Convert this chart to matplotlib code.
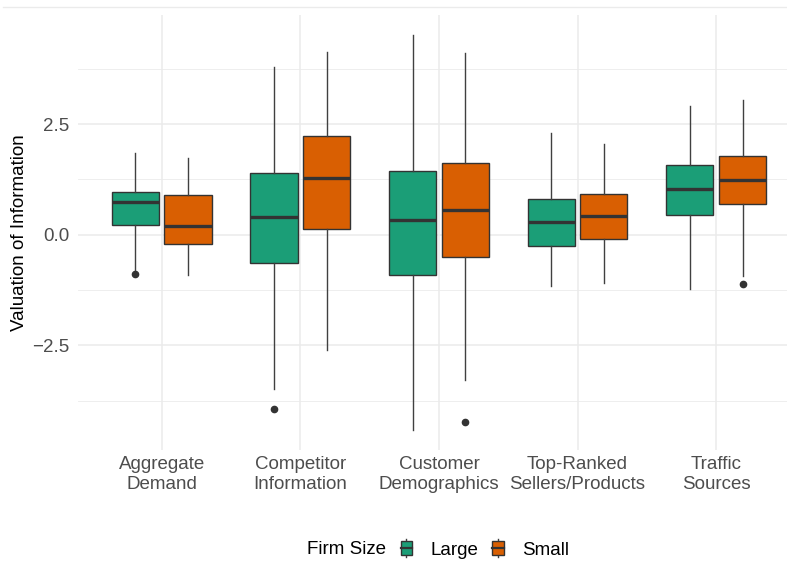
import matplotlib
matplotlib.use("Agg")
import matplotlib.pyplot as plt
from matplotlib.patches import Patch, Rectangle
from matplotlib.lines import Line2D
from matplotlib.legend_handler import HandlerBase

plt.rcParams['font.family'] = ['Liberation Sans', 'DejaVu Sans']

# Information categories shown on the x axis
categories = ["Aggregate\nDemand", "Competitor\nInformation", "Customer\nDemographics",
              "Top-Ranked\nSellers/Products", "Traffic\nSources"]
groups = ["Large", "Small"]

# Box summaries per firm size: whisker low, Q1, median, Q3, whisker high, outliers
large_whislo = [-0.83, -3.49, -4.41, -1.15, -1.23]
large_q1     = [0.23, -0.64, -0.91, -0.25, 0.45]
large_med    = [0.73, 0.40, 0.33, 0.28, 1.04]
large_q3     = [0.96, 1.39, 1.45, 0.81, 1.58]
large_whishi = [1.84, 3.78, 4.51, 2.30, 2.90]
large_fliers = [[-0.89], [-3.94], [], [], []]

small_whislo = [-0.91, -2.60, -3.28, -1.08, -0.93]
small_q1     = [-0.22, 0.13, -0.51, -0.10, 0.69]
small_med    = [0.19, 1.27, 0.55, 0.42, 1.24]
small_q3     = [0.90, 2.22, 1.62, 0.93, 1.78]
small_whishi = [1.73, 4.13, 4.10, 2.06, 3.05]
small_fliers = [[], [], [-4.22], [], [-1.12]]

colors = {"Large": "#1B9E77", "Small": "#D95F02"}
edge = "#333333"

series = {
    "Large": (large_whislo, large_q1, large_med, large_q3, large_whishi, large_fliers),
    "Small": (small_whislo, small_q1, small_med, small_q3, small_whishi, small_fliers),
}

fig = plt.figure(figsize=(7.87, 5.62), dpi=100)
W, H = 787, 562
ax = fig.add_axes([78 / W, (H - 450) / H, 1 - 78 / W, (450 - 15) / H])

offsets = {"Large": -0.19, "Small": 0.19}
for g in groups:
    lo, q1, med, q3, hi, fl = series[g]
    stats = []
    for i in range(len(categories)):
        stats.append(dict(whislo=lo[i], q1=q1[i], med=med[i], q3=q3[i],
                          whishi=hi[i], fliers=fl[i]))
    pos = [i + 1 + offsets[g] for i in range(len(categories))]
    ax.bxp(stats, positions=pos, widths=0.34, patch_artist=True,
           showcaps=False,
           boxprops=dict(facecolor=colors[g], edgecolor=edge, linewidth=1.0),
           medianprops=dict(color=edge, linewidth=2.4, solid_capstyle='butt'),
           whiskerprops=dict(color="#404040", linewidth=1.0),
           flierprops=dict(marker='o', markerfacecolor=edge, markeredgecolor=edge,
                           markersize=4.5, linestyle='none'),
           zorder=3)

ax.set_xlim(0.396, 5.511)
ax.set_ylim(-4.863, 4.963)
ax.set_xticks(range(1, len(categories) + 1))
ax.set_xticklabels(categories, linespacing=1.25)
ax.set_yticks([-2.5, 0.0, 2.5])
ax.set_yticks([-3.75, -1.25, 1.25, 3.75], minor=True)

ax.grid(True, which='major', color='#EBEBEB', linewidth=1.1, zorder=0)
ax.grid(True, which='minor', axis='y', color='#EBEBEB', linewidth=0.6, zorder=0)
ax.set_axisbelow(True)
for s in ax.spines.values():
    s.set_visible(False)
ax.tick_params(axis='both', which='both', length=0, labelsize=13.5, labelcolor='#4D4D4D')
ax.tick_params(axis='x', pad=4)
ax.tick_params(axis='y', pad=6)

fig.text(20 / W, (H - 232.5) / H, "Valuation of Information", rotation=90,
         ha='center', va='center', fontsize=13.5, color='black')

# Thin rule along the top of the figure
fig.add_artist(Line2D([3 / W, 1.0], [(H - 7) / H] * 2, color='#EBEBEB', linewidth=1.0))


class BoxKeyHandler(HandlerBase):
    def create_artists(self, legend, orig_handle, xdescent, ydescent, width, height,
                       fontsize, trans):
        fc = orig_handle.get_facecolor()
        x0, y0 = -xdescent, -ydescent
        cx = x0 + width / 2
        whisk = Line2D([cx, cx], [y0 - 0.15 * height, y0 + 1.15 * height],
                       color='#404040', linewidth=1.0, transform=trans)
        box = Rectangle((x0, y0), width, height, facecolor=fc, edgecolor=edge,
                        linewidth=1.0, transform=trans)
        med = Line2D([x0, x0 + width], [y0 + height / 2] * 2, color=edge,
                     linewidth=1.6, transform=trans)
        return [whisk, box, med]


fig.text(307 / W, (H - 550) / H, "Firm Size", ha='left', va='center',
         fontsize=13.5, color='black')
handles = [Patch(facecolor=colors[g], label=g) for g in groups]
fig.legend(handles=handles, loc='center left', bbox_to_anchor=(400.5 / W, (H - 550) / H),
           ncol=2, frameon=False, fontsize=13.5, handlelength=0.62, handleheight=0.78,
           handletextpad=0.98, columnspacing=0.72, borderpad=0, borderaxespad=0,
           handler_map={Patch: BoxKeyHandler()})

fig.savefig("out.png", dpi=100, facecolor='white')
